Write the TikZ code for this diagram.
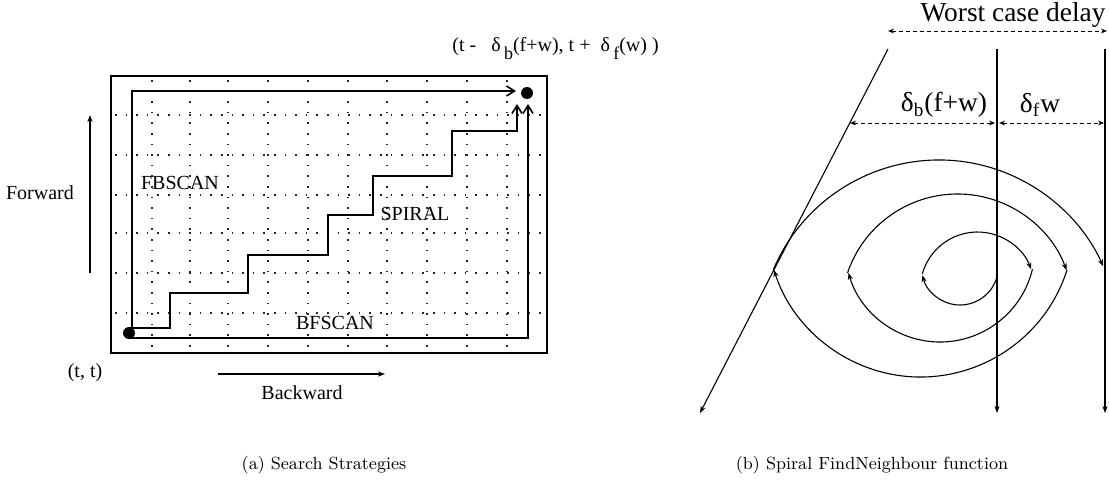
\documentclass[tikz,border=0pt]{standalone}
\usepackage{fontspec}
\newfontfamily\tms{Liberation Serif}
\usetikzlibrary{arrows.meta}
\begin{document}
\begin{tikzpicture}[x=0.5pt,y=0.5pt,
  pathline/.style={line width=0.8pt},
  gridline/.style={line width=0.6pt, dash pattern=on 0.8pt off 4.5pt, black!85},
  lbl/.style={font=\tms\fontsize{10}{12}\selectfont, inner sep=0},
  rlbl/.style={font=\tms\fontsize{13.7}{16}\selectfont, inner sep=0},
  captext/.style={font=\fontsize{8.8}{10}\selectfont, inner sep=0},
  tip/.style={-{Stealth[length=3.5pt,width=2.6pt]}},
  barb/.style={-{Straight Barb[length=4pt,width=5pt]}},
  thinline/.style={line width=0.55pt},
  dline/.style={line width=0.5pt, dash pattern=on 2pt off 1.5pt, {Stealth[length=3pt,width=2.4pt]}-{Stealth[length=3pt,width=2.4pt]}},
  dot/.style={circle, fill, inner sep=0, minimum size=6pt},
]
\useasboundingbox (0,0) rectangle (1109,-487);

% ---------- left panel ----------
\draw[line width=0.7pt] (111,-76) rectangle (547,-353);
\foreach \x in {152,190,228,268,308,348,387,427,467,507}
  \draw[gridline] (\x,-80) -- (\x,-350);
\foreach \y in {115,155,195,233,273,313}
  \draw[gridline] (115,-\y) -- (543,-\y);

\node[dot] (s) at (129,-333) {};
\node[dot] (e) at (527,-93) {};
\coordinate (fbEnd) at (516,-91);
\coordinate (bfEnd) at (528,-104);
\coordinate (spEnd) at (517,-104);

\draw[pathline,barb] ([xshift=1.5pt]s.center) |- (fbEnd);
\draw[pathline,barb] ([yshift=-2.5pt]s.center) -| (bfEnd);
\draw[pathline,barb] ([yshift=2.5pt]s.center) -- (170,-328) -- (170,-293) -- (248,-293)
  -- (248,-255) -- (328,-255) -- (328,-215) -- (373,-215) -- (373,-176)
  -- (452,-176) -- (452,-131) -- (517,-131) -- (spEnd);

\node[lbl] (fbscan) at (180,-183) {FBSCAN};
\node[lbl] (spiral) at (415,-214) {SPIRAL};
\node[lbl] (bfscan) at (335,-323) {BFSCAN};
\node[lbl] (fwd) at (40,-193) {Forward};
\coordinate (fwdA) at (90,-273);
\coordinate (fwdB) at (90,-115);
\draw[thinline,tip] (fwdA) -- (fwdB);
\coordinate (bwA) at (218,-374);
\coordinate (bwB) at (385,-374);
\draw[thinline,tip] (bwA) -- (bwB);
\node[lbl] (bwd) at (302,-393) {Backward};
\node[lbl] (tt) at (85,-373) {(t, t)};
\node[lbl, anchor=west] (coord) at (452,-49)
  {(t -\ \ \ δ\,\raisebox{-4pt}{\fontsize{9}{10}\selectfont b}(f+w),\ t +\ \ δ\,\raisebox{-4pt}{\fontsize{9}{10}\selectfont f}(w) )};

\node[captext] (capa) at (324,-465) {(a) Search Strategies};

% ---------- right panel ----------
\node[rlbl] (wcd) at (1013,-15) {Worst case delay};
\coordinate (w1) at (888,-31);
\coordinate (w2) at (1107,-31);
\draw[dline] (w1) -- (w2);

\coordinate (s1) at (888,-49);
\coordinate (s2) at (700,-413);
\coordinate (v1t) at (997,-49);
\coordinate (v1b) at (997,-413);
\coordinate (v2t) at (1105,-49);
\coordinate (v2b) at (1105,-413);
\draw[thinline,tip] (s1) -- (s2);
\draw[thinline,tip] (v1t) -- (v1b);
\draw[thinline,tip] (v2t) -- (v2b);

\coordinate (d1) at (850,-123);
\coordinate (d2) at (995,-123);
\coordinate (d3) at (999,-123);
\coordinate (d4) at (1104,-123);
\draw[dline] (d1) -- (d2);
\draw[dline] (d3) -- (d4);
\node[rlbl] (db) at (944,-105) {δ\textsubscript{b}(f+w)};
\node[rlbl] (df) at (1040,-105) {δ\textsubscript{f}w};

% spiral arcs
\coordinate (c1) at (960,-266.6);
\coordinate (c2) at (977.5,-289.3);
\coordinate (c3) at (940,-246.9);
\coordinate (c4) at (957.5,-310.1);
\coordinate (c5) at (920.5,-223.2);
\coordinate (c6) at (939,-340);
\draw[thinline,tip] (c1) ++(-15.7:38.4) arc[start angle=-15.7, end angle=-167.2, radius=38.4];
\draw[thinline,tip] (c2) ++(164.3:57.3) arc[start angle=164.3, end angle=20.4, radius=57.3];
\draw[thinline,tip] (c3) ++(-13.5:95.1) arc[start angle=-13.5, end angle=-164.2, radius=95.1];
\draw[thinline,tip] (c4) ++(161.3:116.1) arc[start angle=161.3, end angle=20.1, radius=116.1];
\draw[thinline,tip] (c5) ++(-17.7:153.8) arc[start angle=-17.7, end angle=-162.3, radius=153.8];
\draw[thinline,tip] (c6) ++(157:180) arc[start angle=157, end angle=24.2, radius=180];

\node[captext] (capb) at (872,-465) {(b) Spiral FindNeighbour function};
\end{tikzpicture}
\end{document}
